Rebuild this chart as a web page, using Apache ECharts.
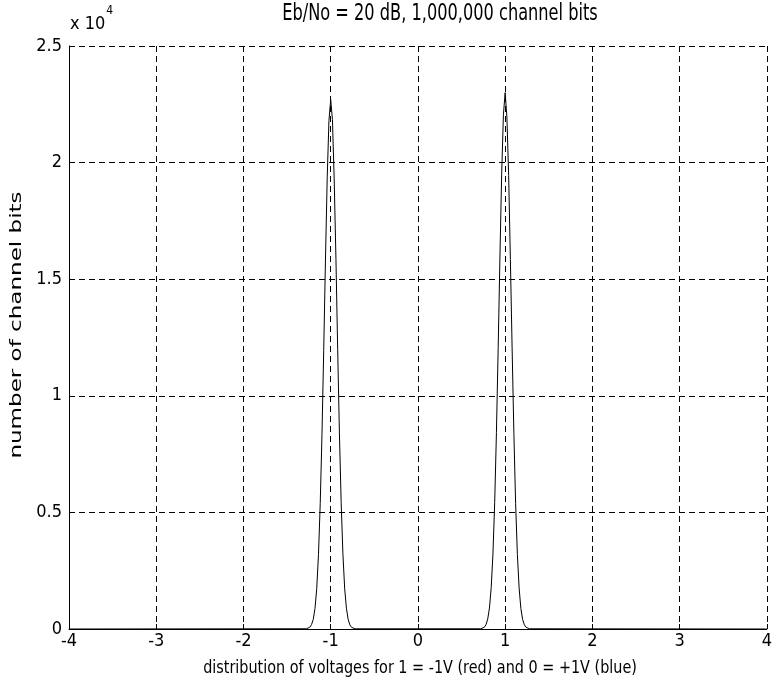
<!DOCTYPE html>
<html>
<head>
<meta charset="utf-8">
<script src="https://cdn.jsdelivr.net/npm/echarts@6/dist/echarts.min.js"></script>
<style>html,body{margin:0;padding:0;background:#fff;}#c{width:775px;height:687px;}</style>
</head>
<body>
<div id="c"></div>
<script>
const titleText = 'Eb/No = 20 dB, 1,000,000 channel bits';
const xLabel = 'distribution of voltages for 1 = -1V (red) and 0 = +1V (blue)';
const yLabel = 'number of channel bits';
const xTicks = [-4, -3, -2, -1, 0, 1, 2, 3, 4];
const yTicks = [0, 5000, 10000, 15000, 20000, 25000];

// voltage bins (V) and counts
const voltages = [
  -4.00, -1.28, -1.26, -1.24, -1.22, -1.20, -1.18, -1.16, -1.14, -1.12, -1.10,
  -1.08, -1.06, -1.04, -1.02, -1.00, -0.98, -0.96, -0.94, -0.92, -0.90,
  -0.88, -0.86, -0.84, -0.82, -0.80, -0.78, -0.76, -0.74, -0.72,
  0.72, 0.74, 0.76, 0.78, 0.80, 0.82, 0.84, 0.86, 0.88, 0.90,
  0.92, 0.94, 0.96, 0.98, 1.00, 1.02, 1.04, 1.06, 1.08, 1.10,
  1.12, 1.14, 1.16, 1.18, 1.20, 1.22, 1.24, 1.26, 1.28, 4.00
];
const counts = [
  0, 10, 30, 75, 185, 410, 880, 1740, 3190, 5380, 8330,
  11950, 15820, 19350, 21800, 22700, 21850, 19300, 15900, 12000, 8400,
  5420, 3230, 1750, 895, 420, 175, 70, 28, 8,
  9, 27, 72, 180, 425, 900, 1770, 3220, 5430, 8420,
  12060, 15950, 19500, 22050, 23000, 21950, 19450, 15850, 12010, 8380,
  5390, 3200, 1760, 885, 415, 180, 74, 26, 9, 0
];

const font = '"DejaVu Sans Condensed", "Liberation Sans Narrow", "Liberation Sans", sans-serif';
const chart = echarts.init(document.getElementById('c'));
const dash = { color: '#000', type: [6, 4], width: 1 };
chart.setOption({
  animation: false,
  grid: { left: 69, right: 5, top: 46, bottom: 58 },
  xAxis: {
    type: 'value', min: -4, max: 4, interval: 1,
    axisLine: { onZero: false, lineStyle: { color: '#000', width: 1 } },
    axisTick: { inside: true, length: 5, lineStyle: { color: '#000' } },
    axisLabel: { fontFamily: font, fontSize: 18, color: '#000', margin: 3,
      formatter: v => xTicks.includes(v) ? String(v) : '' },
    splitLine: { show: true, lineStyle: dash }
  },
  yAxis: {
    type: 'value', min: 0, max: 25000, interval: 5000,
    axisLine: { show: true, onZero: false, lineStyle: { color: '#000', width: 1 } },
    axisTick: { show: true, inside: true, length: 5, lineStyle: { color: '#000' } },
    axisLabel: { fontFamily: font, fontSize: 18, color: '#000', margin: 7,
      formatter: v => yTicks.includes(v) ? String(v / 10000) : '' },
    splitLine: { show: true, lineStyle: dash }
  },
  graphic: [
    { type: 'text', x: 440, y: 14, scaleY: 1.25,
      style: { text: titleText, font: '18px ' + font, fill: '#000', align: 'center', verticalAlign: 'middle' } },
    { type: 'text', x: 420, y: 668, scaleY: 1.15,
      style: { text: xLabel, font: '16px ' + font, fill: '#000', align: 'center', verticalAlign: 'middle' } },
    { type: 'text', x: 17, y: 325, rotation: Math.PI / 2, scaleX: 1.6,
      style: { text: yLabel, font: '16px ' + font, fill: '#000', align: 'center', verticalAlign: 'middle' } },
    { type: 'text', left: 70, top: 5,
      style: {
        text: '{a|x 10}{b|4}',
        rich: {
          a: { fontFamily: font, fontSize: 18, fill: '#000', padding: [10, 0, 0, 0] },
          b: { fontFamily: font, fontSize: 12, fill: '#000', verticalAlign: 'top', padding: [0, 0, 12, 1] }
        }
      } }
  ],
  series: [{
    type: 'line',
    data: voltages.map((v, i) => [v, counts[i]]),
    showSymbol: false,
    lineStyle: { color: '#000', width: 1 },
    smooth: false
  }]
});
</script>
</body>
</html>
